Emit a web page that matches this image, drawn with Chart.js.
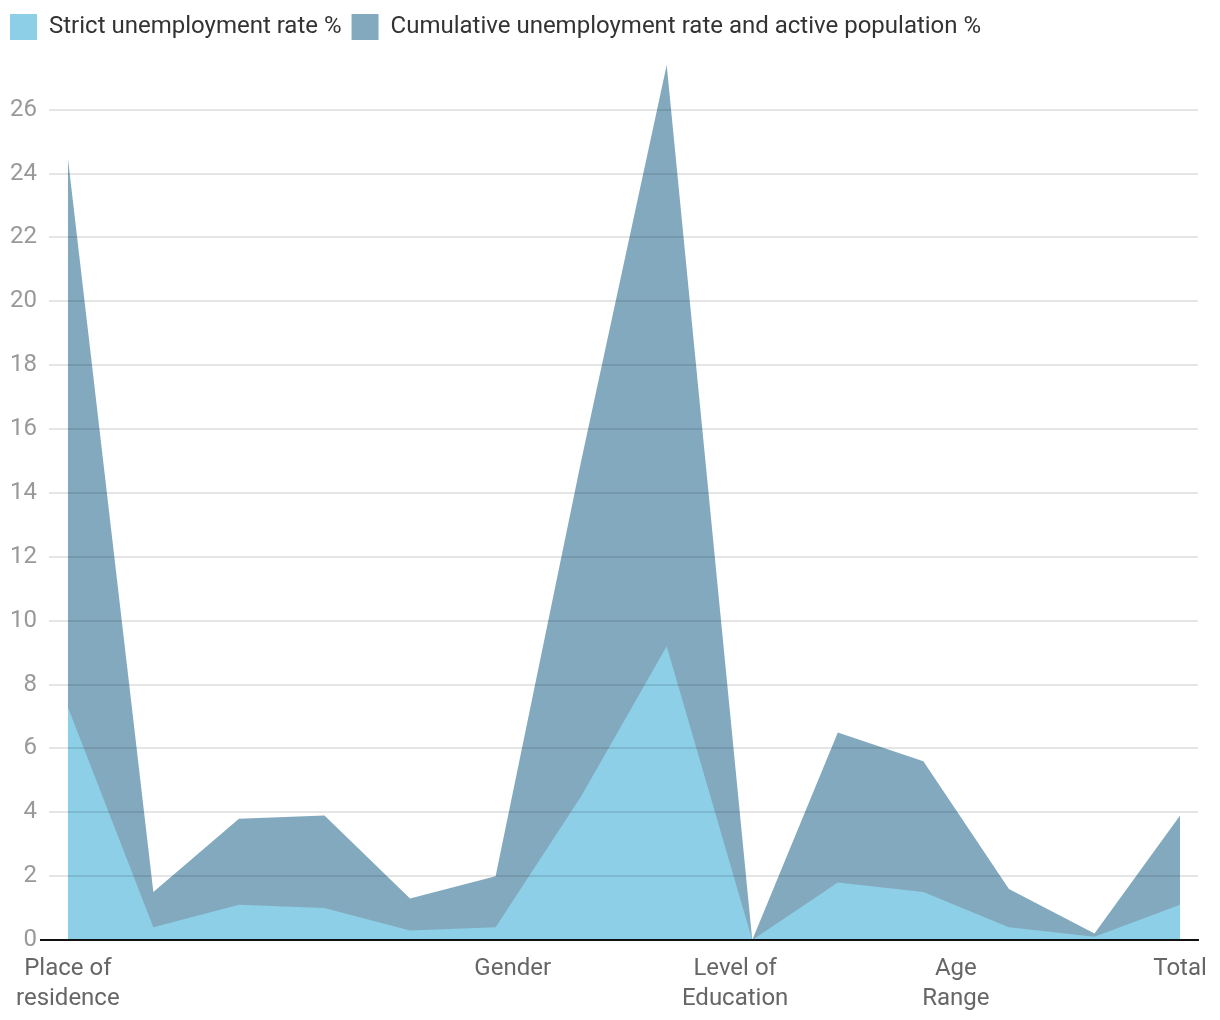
<!DOCTYPE html>
<html lang="en">
<head>
    <meta charset="UTF-8">
    <title>Unemployment rate</title>
    <script src="https://cdn.jsdelivr.net/npm/chart.js"></script>
    <style>
        body { margin: 0; background: #fff; }
        #wrap { width: 1220px; height: 1020px; }
    </style>
</head>
<body>
    <div id="wrap"><canvas id="grafico" width="1220" height="1020"></canvas></div>

    <script>
        // positions of the 14 points along the x axis (one per category row)
        const pointIndex = [0, 1, 2, 3, 4, 5, 6, 7, 8, 9, 10, 11, 12, 13];
        const strictRate = [7.3, 0.4, 1.1, 1.0, 0.3, 0.4, 4.5, 9.2, 0, 1.8, 1.5, 0.4, 0.1, 1.1];
        const cumulativeRate = [24.5, 1.5, 3.8, 3.9, 1.3, 2.0, 15.0, 27.4, 0, 6.5, 5.6, 1.6, 0.2, 3.9];

        // group labels and where they sit on the x axis
        const groupLabels = [['Place of', 'residence'], 'Gender', ['Level of', 'Education'], ['Age', 'Range'], 'Total'];
        const groupPositions = [0, 5.2, 7.8, 10.38, 13];

        const toXY = (vals) => vals.map((v, i) => ({ x: pointIndex[i], y: v }));

        Chart.defaults.font.family = 'Roboto';
        Chart.defaults.font.size = 24;

        const ctx = document.getElementById('grafico').getContext('2d');
        new Chart(ctx, {
            type: 'line',
            data: {
                datasets: [
                    {
                        label: 'Strict unemployment rate %',
                        data: toXY(strictRate),
                        backgroundColor: '#8ccfe6',
                        borderWidth: 0,
                        pointRadius: 0,
                        fill: 'origin',
                    },
                    {
                        label: 'Cumulative unemployment rate and active population %',
                        data: toXY(cumulativeRate),
                        backgroundColor: 'rgba(0, 80, 121, 0.49)',
                        borderWidth: 0,
                        pointRadius: 0,
                        fill: 'origin',
                    }
                ]
            },
            options: {
                responsive: false,
                animation: false,
                layout: { padding: { left: 0, right: 22, top: 4, bottom: 0 } },
                plugins: {
                    legend: {
                        position: 'top',
                        align: 'start',
                        labels: {
                            boxWidth: 27,
                            boxHeight: 26,
                            padding: 10,
                            color: '#333',
                            font: { size: 24 },
                        },
                    },
                    tooltip: { enabled: false },
                },
                scales: {
                    x: {
                        type: 'linear',
                        min: -0.22,
                        max: 13.21,
                        afterBuildTicks: (axis) => {
                            axis.ticks = groupPositions.map(v => ({ value: v }));
                        },
                        ticks: {
                            autoSkip: false,
                            maxRotation: 0,
                            color: '#666',
                            padding: 6,
                            font: { size: 24, lineHeight: 1.25 },
                            callback: (value) => {
                                const i = groupPositions.indexOf(value);
                                return i >= 0 ? groupLabels[i] : '';
                            },
                        },
                        grid: { display: false },
                        border: { display: true, color: '#111', width: 2, z: 2 },
                    },
                    y: {
                        min: 0,
                        max: 27.87,
                        afterBuildTicks: (axis) => {
                            axis.ticks = axis.ticks.filter(t => t.value % 2 === 0);
                        },
                        afterFit: (axis) => { axis.width = 49; },
                        ticks: {
                            stepSize: 2,
                            color: '#999',
                            padding: 3,
                            font: { size: 24 },
                        },
                        grid: {
                            z: 1,
                            lineWidth: 2,
                            tickLength: 9,
                            color: (c) => c.tick && c.tick.value === 0 ? '#111' : 'rgba(0,0,0,0.1)',
                            tickColor: (c) => c.tick && c.tick.value === 0 ? '#111' : 'rgba(0,0,0,0)',
                        },
                        border: { display: false },
                    },
                },
            },
        });
    </script>
</body>
</html>
